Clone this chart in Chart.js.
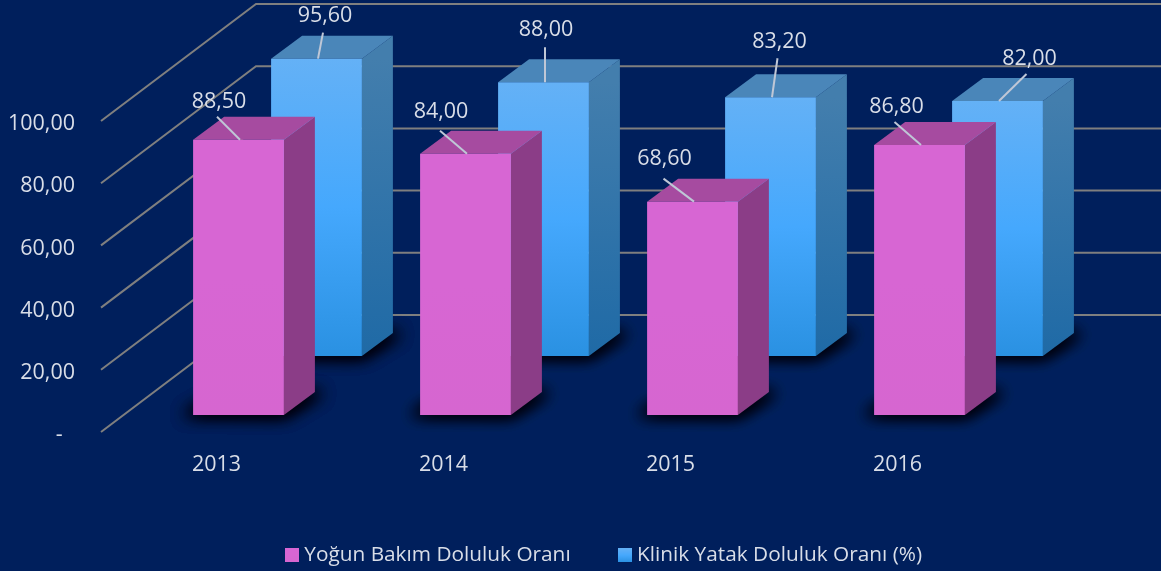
<!DOCTYPE html>
<html><head><meta charset="utf-8">
<style>html,body{margin:0;padding:0;background:#001f5c;overflow:hidden}canvas{display:block}</style>
<script src="https://cdn.jsdelivr.net/npm/chart.js@4"></script>
</head><body><canvas id="c" width="1161" height="571"></canvas>
<script>
const categories = ['2013','2014','2015','2016'];
const yogunBakim = [88.5,84.0,68.6,86.8];
const klinikYatak = [95.6,88.0,83.2,82.0];
const seriesNames = ['Yoğun Bakım Doluluk Oranı','Klinik Yatak Doluluk Oranı (%)'];
const yTicks = [0,20,40,60,80,100];

// label callouts: leader start relative to the bar's top centre, text relative to leader start
const pinkLeaderDx = [-21.5,-25.5,-29,-25], pinkLeaderDy = [-23,-23,-23,-23];
const pinkTextDx = [2,1,1,2], pinkTextDy = [-17,-21,-22,-17];
const blueLeaderDx = [6.5,1.5,7,29], blueLeaderDy = [-26,-35,-39,-27];
const blueTextDx = [2,1,2,3], blueTextDy = [-19,-19,-18,-17];

const BG='#001f5c', GRID='#7f7f7f', TEXT='#d9dee8', FONT='"Open Sans"';
const FS=21.5, LEGEND_FS=20.8;
const WALL={dx:155,dy:-117}, DEPTH={dx:31,dy:-23};
const SHIFT=[{dx:22,dy:-17},{dx:100,dy:-76}];
const LEGEND_POS={dx:100.5,centerY:557,halfLine:12};
const STYLE=[
 {top:'#a64ba0',sideT:'#8b3d87',sideB:'#8b3d87',front:['#d766d3','#d766d3','#d666d0']},
 {top:'#4a86b9',sideT:'#437ead',sideB:'#1f6aa6',front:['#64b1f6','#45a8fd','#2a91e2']}
];
const fmt=v=>v.toFixed(2).replace('.',',');

function legendBox(i){
  const c=document.createElement('canvas');c.width=14;c.height=14;
  const x=c.getContext('2d'),g=x.createLinearGradient(0,0,0,14),f=STYLE[i].front;
  g.addColorStop(0,f[0]);g.addColorStop(.5,f[1]);g.addColorStop(1,f[2]);
  x.fillStyle=g;x.fillRect(0,0,14,14);return c;
}
function frontFill(i){
  return ctx=>{
    const ch=ctx.chart,y=ch.scales.y;
    if(!ch.chartArea||ctx.raw===undefined||!y) return STYLE[i].front[0];
    const g=ch.ctx.createLinearGradient(0,y.getPixelForValue(ctx.raw),0,y.getPixelForValue(0)),f=STYLE[i].front;
    g.addColorStop(0,f[0]);g.addColorStop(.5,f[1]);g.addColorStop(1,f[2]);
    return g;
  };
}
function poly(c,pts){c.beginPath();pts.forEach((p,i)=>i?c.lineTo(p[0],p[1]):c.moveTo(p[0],p[1]));c.closePath();}

const scene={
  id:'scene',
  afterLayout(ch){
    const L=ch.legend,p=L.options.labels.padding;
    L.left+=LEGEND_POS.dx;L.right+=LEGEND_POS.dx;
    L.top=LEGEND_POS.centerY-p-LEGEND_POS.halfLine;
  },
  beforeDraw(ch){const c=ch.ctx;c.save();c.fillStyle=BG;c.fillRect(0,0,ch.width,ch.height);c.restore();},
  beforeDatasetsDraw(ch){
    const c=ch.ctx,y=ch.scales.y,a=ch.chartArea;
    c.save();c.strokeStyle=GRID;c.lineWidth=2;
    yTicks.forEach(t=>{
      const py=y.getPixelForValue(t),x0=a.left-2;
      c.beginPath();c.moveTo(x0,py);c.lineTo(x0+WALL.dx,py+WALL.dy);c.lineTo(ch.width,py+WALL.dy);c.stroke();
    });
    c.restore();
  },
  beforeDatasetDraw(ch,{index,meta}){
    const c=ch.ctx,s=SHIFT[index],st=STYLE[index],D=DEPTH,off=3000;
    c.save();c.translate(s.dx,s.dy);
    meta.data.forEach(b=>{
      const l=b.x-b.width/2,r=b.x+b.width/2,t=b.y,u=b.base;
      // soft floor shadow: only the blur of an off-canvas footprint lands here
      c.save();c.shadowColor='rgba(0,0,14,1)';c.shadowBlur=16;c.shadowOffsetX=off;c.fillStyle='#000';
      [0,1,2].forEach(()=>{poly(c,[[l-10-off,u],[r-off,u+1],[r+D.dx+8-off,u+D.dy],[l+D.dx-off,u+D.dy]]);c.fill();});
      c.restore();
      // side face
      const g=c.createLinearGradient(0,t,0,u);g.addColorStop(0,st.sideT);g.addColorStop(1,st.sideB);
      c.fillStyle=g;poly(c,[[r,t],[r+D.dx,t+D.dy],[r+D.dx,u+D.dy],[r,u]]);c.fill();
      // top face
      c.fillStyle=st.top;poly(c,[[l,t],[l+D.dx,t+D.dy],[r+D.dx,t+D.dy],[r,t]]);c.fill();
    });
  },
  afterDatasetDraw(ch){ch.ctx.restore();},
  afterDraw(ch){
    const c=ch.ctx,L=[
      {i:1,dx:blueLeaderDx,dy:blueLeaderDy,tx:blueTextDx,ty:blueTextDy},
      {i:0,dx:pinkLeaderDx,dy:pinkLeaderDy,tx:pinkTextDx,ty:pinkTextDy}];
    c.save();c.font=FS+'px '+FONT;c.textAlign='center';c.textBaseline='middle';
    L.forEach(o=>{
      const s=SHIFT[o.i],vals=ch.data.datasets[o.i].data;
      ch.getDatasetMeta(o.i).data.forEach((b,k)=>{
        const ex=b.x+s.dx+1.5,ey=b.y+s.dy,sx=b.x+s.dx+o.dx[k],sy=b.y+s.dy+o.dy[k];
        c.strokeStyle='#bfc7d6';c.lineWidth=2;
        c.beginPath();c.moveTo(sx,sy);c.lineTo(ex,ey);c.stroke();
        c.fillStyle=TEXT;c.fillText(fmt(vals[k]),sx+o.tx[k],sy+o.ty[k]+2);
      });
    });
    c.restore();
  }
};

new Chart(document.getElementById('c'),{
  type:'bar',
  data:{labels:categories,datasets:[
    {label:seriesNames[0],data:yogunBakim,backgroundColor:frontFill(0),clip:false,pointStyle:legendBox(0)},
    {label:seriesNames[1],data:klinikYatak,backgroundColor:frontFill(1),clip:false,pointStyle:legendBox(1)}
  ]},
  options:{
    responsive:false,animation:false,devicePixelRatio:1,
    layout:{padding:{top:121,right:150,left:0,bottom:0}},
    datasets:{bar:{grouped:false,categoryPercentage:1,barPercentage:0.4,borderWidth:0}},
    scales:{
      x:{afterFit(s){s.height=100;},grid:{display:false},border:{display:false},
         ticks:{color:TEXT,font:{family:FONT,size:FS},padding:12,maxRotation:0}},
      y:{min:0,max:100,afterFit(s){s.width=103;},grid:{display:false,drawTicks:false},border:{display:false},
         afterBuildTicks(s){s.ticks=yTicks.map(v=>({value:v}));},
         ticks:{color:TEXT,font:{family:FONT,size:FS},padding:28,labelOffset:3,
           callback:v=>v===0?'-\u2007':fmt(v)}}
    },
    plugins:{
      tooltip:{enabled:false},
      legend:{position:'bottom',align:'center',maxHeight:39,
        labels:{color:TEXT,font:{family:FONT,size:LEGEND_FS},usePointStyle:true,pointStyleWidth:4,boxHeight:14,padding:52,
          generateLabels(ch){return ch.data.datasets.map((d,i)=>({text:d.label,pointStyle:d.pointStyle,fontColor:TEXT,datasetIndex:i,hidden:false,lineWidth:0,strokeStyle:'transparent'}));}
        }}
    }
  },
  plugins:[scene]
});
</script></body></html>
